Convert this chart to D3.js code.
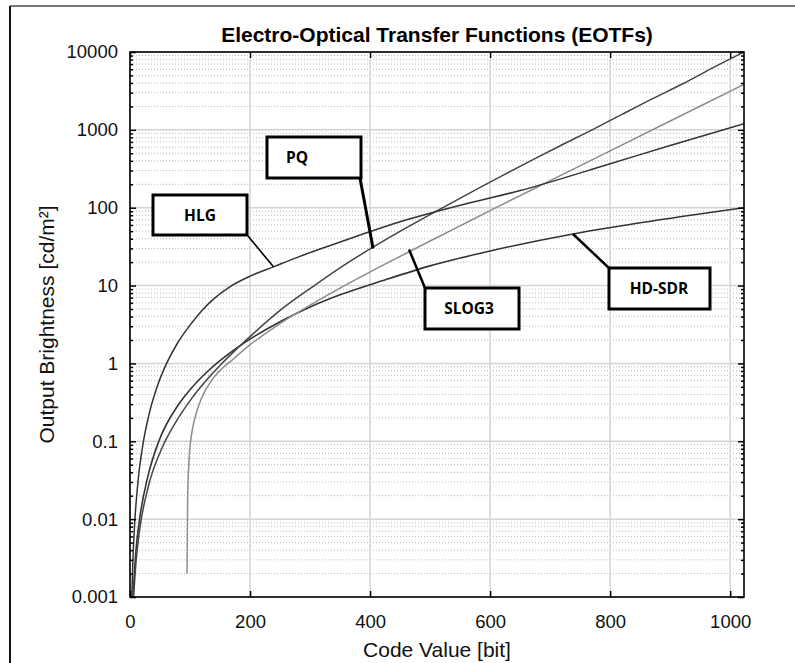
<!DOCTYPE html>
<html>
<head>
<meta charset="utf-8">
<script src="https://cdn.jsdelivr.net/npm/d3@7"></script>
<style>
body { margin:0; background:#fff; }
text { font-family: "Liberation Sans", Arial, sans-serif; }
</style>
</head>
<body>
<svg id="chart" width="795" height="663"></svg>
<script>

// values (code value -> cd/m2)
var hlgCode = [3, 5, 8, 14, 21, 32, 47, 61, 80, 100, 120, 140, 165, 200, 239, 280, 330, 380, 450, 500, 565, 650, 800, 900, 1023];
var hlgNits = [0.001, 0.0032, 0.0094, 0.034, 0.086, 0.227, 0.55, 1, 1.87, 3.1, 4.8, 6.8, 9.5, 13.2, 17.4, 23.2, 32, 43.6, 66, 85, 115, 166, 367, 631, 1200];

var pqCode = [6, 10, 16, 30, 52, 75, 102, 125, 153, 180, 205, 250, 307, 360, 409, 460, 512, 565, 614, 665, 716, 770, 818, 870, 921, 970, 1023];
var pqNits = [0.001, 0.0028, 0.0072, 0.0253, 0.078, 0.17, 0.348, 0.58, 1.0, 1.59, 2.4, 4.8, 10, 19, 32.5, 55, 92, 153, 244, 390, 621, 1000, 1555, 2500, 3906, 6200, 10000];

var slogCode = [95, 96, 98, 100, 105, 110, 120, 135, 150, 171, 200, 250, 300, 350, 420, 500, 565, 600, 700, 800, 900, 1023];
var slogNits = [0.002, 0.018, 0.05, 0.085, 0.155, 0.225, 0.37, 0.59, 0.81, 1.12, 1.74, 3.25, 5.6, 9.26, 18, 37.4, 67, 91.7, 222.6, 538, 1300, 3842];

var sdrCode = [5, 10, 16, 30, 48, 80, 100, 130, 170, 200, 250, 300, 350, 420, 500, 600, 738, 850, 1023];
var sdrNits = [0.001, 0.004, 0.01, 0.036, 0.1, 0.29, 0.46, 0.8, 1.43, 2.05, 3.43, 5.3, 7.6, 11.5, 17.9, 27.8, 46, 64, 100];

var xTicks = [0, 200, 400, 600, 800, 1000];
var yTicks = [0.001, 0.01, 0.1, 1, 10, 100, 1000, 10000];
var yTickLabels = ["0.001", "0.01", "0.1", "1", "10", "100", "1000", "10000"];

var labels = ["HLG", "PQ", "SLOG3", "HD-SDR"];

var svg = d3.select('#chart');

// plot box (note: "top" is taken by window.top, so p* names)
var pL = 130, pR = 744, pT = 52, pB = 597;

var x = d3.scaleLinear().domain([0, 1023]).range([pL, pR]);
var y = d3.scaleLog().domain([0.001, 10000]).range([pB, pT]);

// outer frame (only top and left edge visible)
svg.append('line').attr('x1', 10).attr('y1', 6).attr('x2', 795).attr('y2', 6)
   .attr('stroke', '#777').attr('stroke-width', 2);
svg.append('line').attr('x1', 10).attr('y1', 6).attr('x2', 10).attr('y2', 663)
   .attr('stroke', '#111').attr('stroke-width', 2);

// minor ticks 2..9 per decade
var minor = [];
yTicks.forEach(function(t){
	if (t >= 10000) return;
	for (var k = 2; k <= 9; k++) minor.push(t * k);
});

var grid = svg.append('g');

grid.selectAll('.ymin')
	.data(minor)
	.enter()
	.append('line')
	.attr('x1', pL).attr('x2', pR)
	.attr('y1', function(d){ return y(d); })
	.attr('y2', function(d){ return y(d); })
	.attr('stroke', '#b8b8b8')
	.attr('stroke-width', 1)
	.attr('stroke-dasharray', '1,2');

grid.selectAll('.ymaj')
	.data(yTicks)
	.enter()
	.append('line')
	.attr('x1', pL).attr('x2', pR)
	.attr('y1', function(d){ return y(d); })
	.attr('y2', function(d){ return y(d); })
	.attr('stroke', '#d4d4d4')
	.attr('stroke-width', 1.5);

grid.selectAll('.xmaj')
	.data(xTicks)
	.enter()
	.append('line')
	.attr('x1', function(d){ return x(d); })
	.attr('x2', function(d){ return x(d); })
	.attr('y1', pT).attr('y2', pB)
	.attr('stroke', '#d4d4d4')
	.attr('stroke-width', 1.5);

// curves
svg.append('clipPath').attr('id', 'clip')
	.append('rect').attr('x', pL).attr('y', pT)
	.attr('width', pR - pL).attr('height', pB - pT);

var line = d3.line()
	.x(function(d){ return x(d[0]); })
	.y(function(d){ return y(d[1]); })
	.curve(d3.curveMonotoneX);

function pairs(a, b){ return a.map(function(v, i){ return [v, b[i]]; }); }

var series = [
	{ data: pairs(sdrCode, sdrNits), color: '#333', w: 1.6 },
	{ data: pairs(slogCode, slogNits), color: '#8c8c8c', w: 1.5 },
	{ data: pairs(pqCode, pqNits), color: '#444', w: 1.5 },
	{ data: pairs(hlgCode, hlgNits), color: '#333', w: 1.5 }
];

var curves = svg.append('g').attr('clip-path', 'url(#clip)');
series.forEach(function(s){
	curves.append('path')
		.attr('d', line(s.data))
		.attr('fill', 'none')
		.attr('stroke', s.color)
		.attr('stroke-width', s.w);
});

// axes (ticks point inwards)
var fmt = function(d){ return yTickLabels[yTicks.indexOf(d)]; };

svg.append('g').attr('transform', 'translate(' + pL + ',0)')
	.call(d3.axisLeft(y).tickValues(yTicks).tickFormat(fmt).tickSize(-6).tickPadding(12));
svg.append('g').attr('transform', 'translate(' + pR + ',0)')
	.call(d3.axisRight(y).tickValues(yTicks).tickFormat('').tickSize(-6));
svg.append('g').attr('transform', 'translate(' + pL + ',0)')
	.call(d3.axisLeft(y).tickValues(minor).tickFormat('').tickSize(-3));
svg.append('g').attr('transform', 'translate(' + pR + ',0)')
	.call(d3.axisRight(y).tickValues(minor).tickFormat('').tickSize(-3));

var xAxis = svg.append('g').attr('transform', 'translate(0,' + pB + ')')
	.call(d3.axisBottom(x).tickValues(xTicks).tickFormat(d3.format('d')).tickSize(-6).tickPadding(18));
svg.append('g').attr('transform', 'translate(0,' + pT + ')')
	.call(d3.axisTop(x).tickValues(xTicks).tickFormat('').tickSize(-6));

svg.selectAll('.domain').remove();
svg.selectAll('.tick line').attr('stroke', '#000').attr('stroke-width', 1.5);
svg.selectAll('.tick text').attr('font-size', 18.5).attr('fill', '#111')
	.style('font-family', '"Liberation Sans", Arial, sans-serif');
xAxis.selectAll('.tick text').attr('dy', '0.71em');

// plot box
svg.append('rect').attr('x', pL).attr('y', pT)
	.attr('width', pR - pL).attr('height', pB - pT)
	.attr('fill', 'none').attr('stroke', '#000').attr('stroke-width', 1.6);

// title and axis names
svg.append('text').attr('x', (pL + pR) / 2).attr('y', 42)
	.attr('text-anchor', 'middle').attr('font-size', 21).attr('font-weight', 'bold')
	.text('Electro-Optical Transfer Functions (EOTFs)');

svg.append('text').attr('x', (pL + pR) / 2).attr('y', 657)
	.attr('text-anchor', 'middle').attr('font-size', 21).attr('fill', '#111')
	.text('Code Value [bit]');

svg.append('text')
	.attr('transform', 'translate(54,' + ((pT + pB) / 2) + ') rotate(-90)')
	.attr('text-anchor', 'middle').attr('font-size', 21).attr('fill', '#111')
	.text('Output Brightness [cd/m²]');

// callout boxes: box, text x, pointer start, pointer end (data units), pointer width
var callouts = [
	{ t: labels[0], bx: 153, by: 195, bw: 94, bh: 40, tx: 200, px: 248, py: 236, to: [239, hlgNits[14]], lw: 1.6 },
	{ t: labels[1], bx: 267, by: 137, bw: 94, bh: 41, tx: 297, px: 360, py: 178, to: [405, 30], lw: 3 },
	{ t: labels[2], bx: 425, by: 288, bw: 94, bh: 41, tx: 469, px: 425, py: 288, to: [465, 29], lw: 2.5 },
	{ t: labels[3], bx: 609, by: 268, bw: 101, bh: 41, tx: 659, px: 609, py: 268, to: [738, sdrNits[16]], lw: 2.5 }
];

var co = svg.append('g');
callouts.forEach(function(c){
	co.append('line')
		.attr('x1', c.px).attr('y1', c.py)
		.attr('x2', x(c.to[0])).attr('y2', y(c.to[1]))
		.attr('stroke', '#000').attr('stroke-width', c.lw);
	co.append('rect').attr('x', c.bx).attr('y', c.by).attr('width', c.bw).attr('height', c.bh)
		.attr('fill', '#fff').attr('stroke', '#000').attr('stroke-width', 3);
	co.append('text').attr('x', c.tx).attr('y', c.by + c.bh / 2 + 5.5)
		.attr('text-anchor', 'middle').attr('font-size', 15.5).attr('font-weight', 'bold')
		.style('font-family', '"Open Sans", "Noto Sans", sans-serif')
		.text(c.t);
});

</script>
</body>
</html>
